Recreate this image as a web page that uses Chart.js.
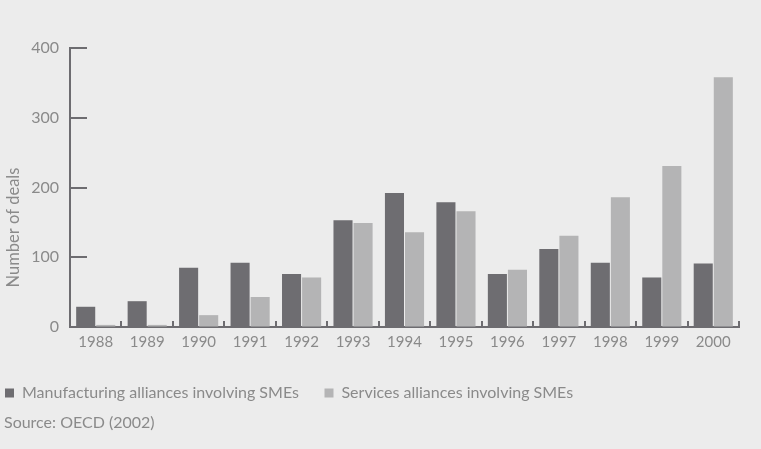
<!DOCTYPE html>
<html>
<head>
<meta charset="utf-8">
<script src="https://cdn.jsdelivr.net/npm/chart.js@4.4.1/dist/chart.umd.min.js"></script>
<style>
  html, body { margin: 0; padding: 0; background: #ececec; }
  #wrap { width: 761px; height: 449px; position: relative; }
</style>
</head>
<body>
<div id="wrap"><canvas id="chart"></canvas></div>
<script>
const years = ["1988", "1989", "1990", "1991", "1992", "1993", "1994", "1995", "1996", "1997", "1998", "1999", "2000"];
const manufacturing = [29, 37, 85, 92, 76, 153, 192, 179, 76, 112, 92, 71, 91];
const services = [3, 3, 17, 43, 71, 149, 136, 166, 82, 131, 186, 231, 358];
const seriesNames = ["Manufacturing alliances involving SMEs", "Services alliances involving SMEs"];
const yMax = 400;
const yStep = 100;

const fontFamily = "Lato, sans-serif";
const textColor = "#8a8a8a";
const axisColor = "#6d6c70";

// inward y ticks, small upward x ticks at category edges, y title
const axisDecor = {
  id: "axisDecor",
  afterDraw(chart) {
    const { ctx, chartArea, scales: { x, y } } = chart;
    ctx.save();
    ctx.strokeStyle = axisColor;
    ctx.lineWidth = 2;
    y.ticks.forEach((t, i) => {
      if (t.value === 0) return;
      const py = Math.round(y.getPixelForTick(i));
      ctx.beginPath();
      ctx.moveTo(chartArea.left, py);
      ctx.lineTo(chartArea.left + 17, py);
      ctx.stroke();
    });
    for (let i = 1; i <= years.length; i++) {
      const px = Math.round(x.getPixelForValue(i - 0.5));
      ctx.beginPath();
      ctx.moveTo(px, chartArea.bottom);
      ctx.lineTo(px, chartArea.bottom - 6);
      ctx.stroke();
    }

    ctx.fillStyle = textColor;
    ctx.font = "16.5px " + fontFamily;
    ctx.textAlign = "center";
    ctx.textBaseline = "middle";
    ctx.translate(14, (chartArea.top + chartArea.bottom) / 2 + 40);
    ctx.rotate(-Math.PI / 2);
    ctx.fillText("Number of deals", 0, 0);
    ctx.restore();
  }
};

new Chart(document.getElementById("chart"), {
  type: "bar",
  data: {
    labels: years,
    datasets: [
      { label: seriesNames[0], data: manufacturing, backgroundColor: "#6e6d71", borderWidth: 0 },
      { label: seriesNames[1], data: services, backgroundColor: "#b4b4b5", borderWidth: 0 }
    ]
  },
  options: {
    responsive: true,
    maintainAspectRatio: false,
    animation: false,
    categoryPercentage: 0.78,
    barPercentage: 0.95,
    layout: { padding: { left: 4, right: 22, top: 48, bottom: 0 } },
    scales: {
      x: {
        afterFit: (scale) => { scale.height += 27; },
        grid: { display: true, drawOnChartArea: false, drawTicks: false },
        border: { display: true, color: axisColor, width: 2 },
        ticks: { color: textColor, font: { family: fontFamily, size: 15 }, padding: 6 }
      },
      y: {
        min: 0,
        max: yMax,
        afterFit: (scale) => { scale.width = 66; },
        grid: { display: true, drawOnChartArea: false, drawTicks: false },
        border: { display: true, color: axisColor, width: 2 },
        ticks: { stepSize: yStep, color: textColor, font: { family: fontFamily, size: 16 }, padding: 11 }
      }
    },
    plugins: {
      tooltip: { enabled: false },
      legend: {
        position: "bottom",
        align: "start",
        labels: {
          boxWidth: 9,
          boxHeight: 9,
          padding: 1,
          color: textColor,
          font: { family: fontFamily, size: 16 },
          generateLabels: (chart) => Chart.defaults.plugins.legend.labels.generateLabels(chart)
            .map((item, i) => ({ ...item, text: i === 0 ? item.text + "      " : item.text }))
        }
      },
      title: {
        display: true,
        text: "Source: OECD (2002)",
        position: "bottom",
        align: "start",
        color: textColor,
        font: { family: fontFamily, size: 16, weight: "normal" },
        padding: { top: 2.4, bottom: 16.4 }
      }
    }
  },
  plugins: [axisDecor]
});
</script>
</body>
</html>
